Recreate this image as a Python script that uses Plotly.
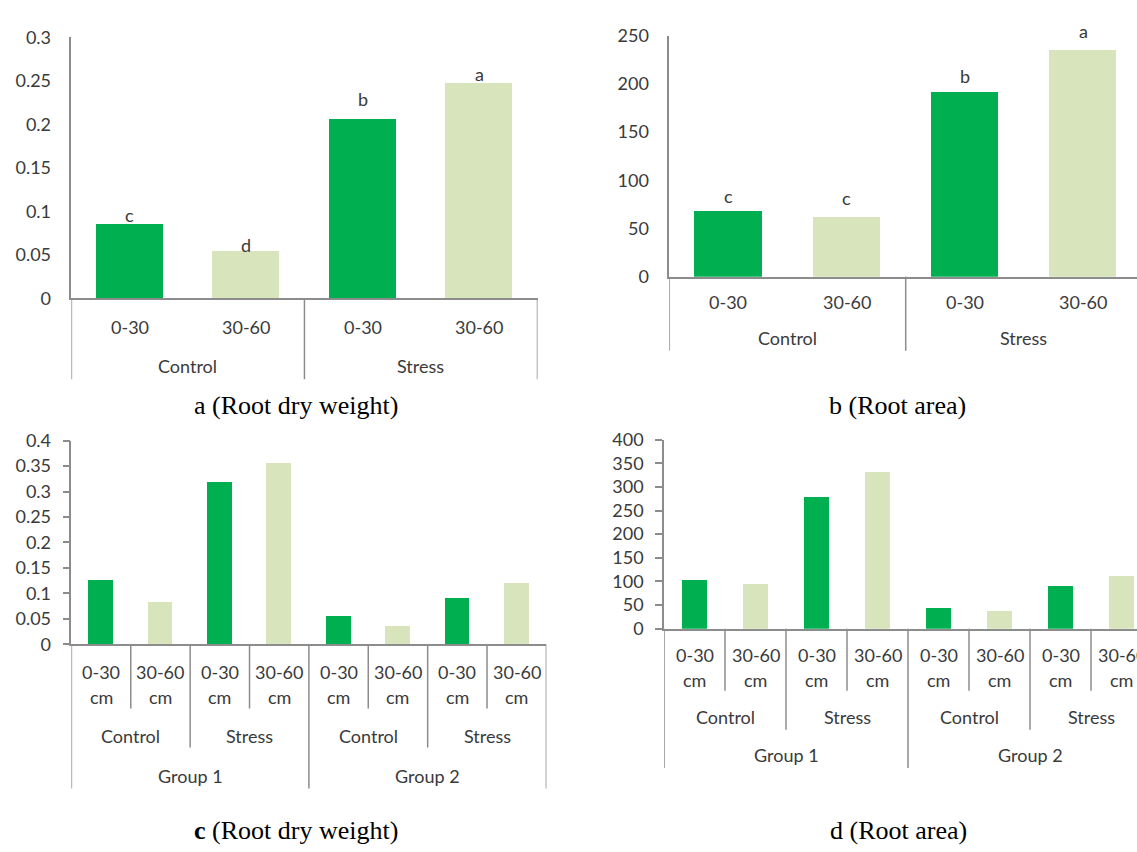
import plotly.graph_objects as go

# ---------------- data ----------------
depths = ["0-30", "30-60"]
treatments = ["Control", "Stress"]
groups = ["Group 1", "Group 2"]

a_values = [0.085, 0.054, 0.206, 0.247]
a_letters = ["c", "d", "b", "a"]
b_values = [68, 62.5, 191.5, 235]
b_letters = ["c", "c", "b", "a"]
c_values = [0.127, 0.083, 0.320, 0.357, 0.056, 0.036, 0.091, 0.122]
d_values = [104, 96, 279, 333, 44, 38, 91, 112]

a_ticks = [0, 0.05, 0.1, 0.15, 0.2, 0.25, 0.3]
a_ticktext = ["0", "0.05", "0.1", "0.15", "0.2", "0.25", "0.3"]
b_ticks = [0, 50, 100, 150, 200, 250]
c_ticks = [0, 0.05, 0.1, 0.15, 0.2, 0.25, 0.3, 0.35, 0.4]
c_ticktext = ["0", "0.05", "0.1", "0.15", "0.2", "0.25", "0.3", "0.35", "0.4"]
d_ticks = [0, 50, 100, 150, 200, 250, 300, 350, 400]

captions = ["a (Root dry weight)", "b (Root area)", "<b>c</b> (Root dry weight)", "d (Root area)"]

# ---------------- style ----------------
W, H = 1137, 852
DARK = "#00B050"
LIGHT = "#D8E4BC"
GRAY = "#8C8C8C"
TXT = "#3A3A3A"
SANS = "Lato"
SERIF = "Liberation Serif"
FS = 18

def px(x):
    return x / W

def py(y):
    return 1 - y / H

fig = go.Figure()
annotations = []
shapes = []

def bar_colors(n):
    return [DARK if i % 2 == 0 else LIGHT for i in range(n)]

panels = [
    dict(ax="", vals=a_values, xd=(71.4, 537.5), xr=(-0.5, 3.5), yd=(294, 26), yr=(0, 0.3),
         tv=a_ticks, tt=a_ticktext, tl=0, so=15, bw=0.573),
    dict(ax="2", vals=b_values, xd=(669.3, W), xr=(-0.5, -0.5 + (W - 669.3) / 118.2), yd=(271.7, 24.3),
         yr=(0, 250), tv=b_ticks, tt=[str(t) for t in b_ticks], tl=0, so=15, bw=0.571),
    dict(ax="3", vals=c_values, xd=(71.4, 546.4), xr=(-0.5, 7.5), yd=(649, 440), yr=(0, 0.4),
         tv=c_ticks, tt=c_ticktext, tl=7, so=8, bw=0.415),
    dict(ax="4", vals=d_values, xd=(664, W), xr=(-0.5, -0.5 + (W - 664) / 61.0), yd=(633, 439),
         yr=(0, 400), tv=d_ticks, tt=[str(t) for t in d_ticks], tl=7, so=8, bw=0.41),
]

layout = {}
for p in panels:
    n = len(p["vals"])
    xname = "x" + p["ax"]
    yname = "y" + p["ax"]
    fig.add_trace(go.Bar(
        x=list(range(n)), y=p["vals"], width=p["bw"],
        marker=dict(color=bar_colors(n), line=dict(width=0)),
        xaxis=xname, yaxis=yname, hoverinfo="skip", showlegend=False,
    ))
    layout["xaxis" + p["ax"]] = dict(
        domain=[px(p["xd"][0]), px(p["xd"][1])], range=list(p["xr"]), anchor=yname,
        showline=True, linecolor=GRAY, linewidth=1.5, showgrid=False, zeroline=False,
        showticklabels=False, ticks="", fixedrange=True,
    )
    layout["yaxis" + p["ax"]] = dict(
        domain=[py(p["yd"][0]), py(p["yd"][1])], range=list(p["yr"]), anchor=xname,
        showline=True, linecolor=GRAY, linewidth=1.5, showgrid=False, zeroline=False,
        tickvals=p["tv"], ticktext=p["tt"],
        ticks="outside" if p["tl"] else "", ticklen=p["tl"], tickcolor=GRAY, tickwidth=1.5,
        ticklabelstandoff=p["so"], tickfont=dict(family=SANS, size=FS, color=TXT),
        fixedrange=True,
    )

def label(text, xref, x, ypix, size=FS, family=SANS, color=TXT):
    annotations.append(dict(text=text, xref=xref, yref="paper", x=x, y=py(ypix),
                            xanchor="center", yanchor="middle", showarrow=False,
                            font=dict(family=family, size=size, color=color)))

def divider(xref, xval, ytop, ybot):
    shapes.append(dict(type="line", xref=xref, yref="paper", x0=xval, x1=xval,
                       y0=py(ytop), y1=py(ybot), line=dict(color=GRAY, width=1.5)))

two_level = [
    dict(ax="x", vals=a_values, letters=a_letters, yref="y", shifts=[9, 6, 20, 9],
         axis_y=294, bot=377, dy=323, ty=363, last_visible=True),
    dict(ax="x2", vals=b_values, letters=b_letters, yref="y2", shifts=[15, 18, 16, 19],
         axis_y=271.7, bot=347.7, dy=297.7, ty=335, last_visible=False),
]
for p in two_level:
    k = 0
    for ti, t in enumerate(treatments):
        for di, d in enumerate(depths):
            label(d, p["ax"], k, p["dy"])
            annotations.append(dict(text=p["letters"][k], xref=p["ax"], yref=p["yref"], x=k,
                                    y=p["vals"][k], yshift=p["shifts"][k], xanchor="center",
                                    yanchor="middle", showarrow=False,
                                    font=dict(family=SANS, size=FS, color=TXT)))
            k += 1
        label(t, p["ax"], ti * len(depths) + (len(depths) - 1) / 2, p["ty"])
    bounds = [i * len(depths) - 0.5 for i in range(len(treatments) + 1)]
    if not p["last_visible"]:
        bounds = bounds[:-1]
    for b in bounds:
        divider(p["ax"], b, p["axis_y"], p["bot"])

three_level = [
    dict(ax="x3", axis_y=649, dy1=677, dy2=703, ty=743, gy=784,
         b1=715, b2=755, b3=797, last_visible=True),
    dict(ax="x4", axis_y=633, dy1=660, dy2=685.7, ty=724, gy=763,
         b1=696.7, b2=736.7, b3=776, last_visible=False),
]
nd, nt, ng = len(depths), len(treatments), len(groups)
for p in three_level:
    k = 0
    for gi, g in enumerate(groups):
        for ti, t in enumerate(treatments):
            for di, d in enumerate(depths):
                label(d, p["ax"], k, p["dy1"])
                label("cm", p["ax"], k, p["dy2"])
                k += 1
            label(t, p["ax"], (gi * nt + ti) * nd + (nd - 1) / 2, p["ty"])
        label(g, p["ax"], gi * nt * nd + (nt * nd - 1) / 2, p["gy"])
    total = ng * nt * nd
    for b in range(total + 1):
        if b == total and not p["last_visible"]:
            continue
        if b % (nt * nd) == 0:
            bot = p["b3"]
        elif b % nd == 0:
            bot = p["b2"]
        else:
            bot = p["b1"]
        divider(p["ax"], b - 0.5, p["axis_y"], bot)

cap_pos = [(296, 404), (897, 404), (296, 840), (898, 840)]
for text, (cx, cy) in zip(captions, cap_pos):
    annotations.append(dict(text=text, xref="paper", yref="paper", x=px(cx), y=py(cy),
                            xanchor="center", yanchor="middle", showarrow=False,
                            font=dict(family=SERIF, size=26, color="#000000")))

fig.update_layout(
    width=W, height=H, margin=dict(l=0, r=0, t=0, b=0, pad=0),
    paper_bgcolor="white", plot_bgcolor="white",
    annotations=annotations, shapes=shapes, bargap=0, showlegend=False,
    **layout,
)

fig.write_html("out.html", config={"displayModeBar": False})
